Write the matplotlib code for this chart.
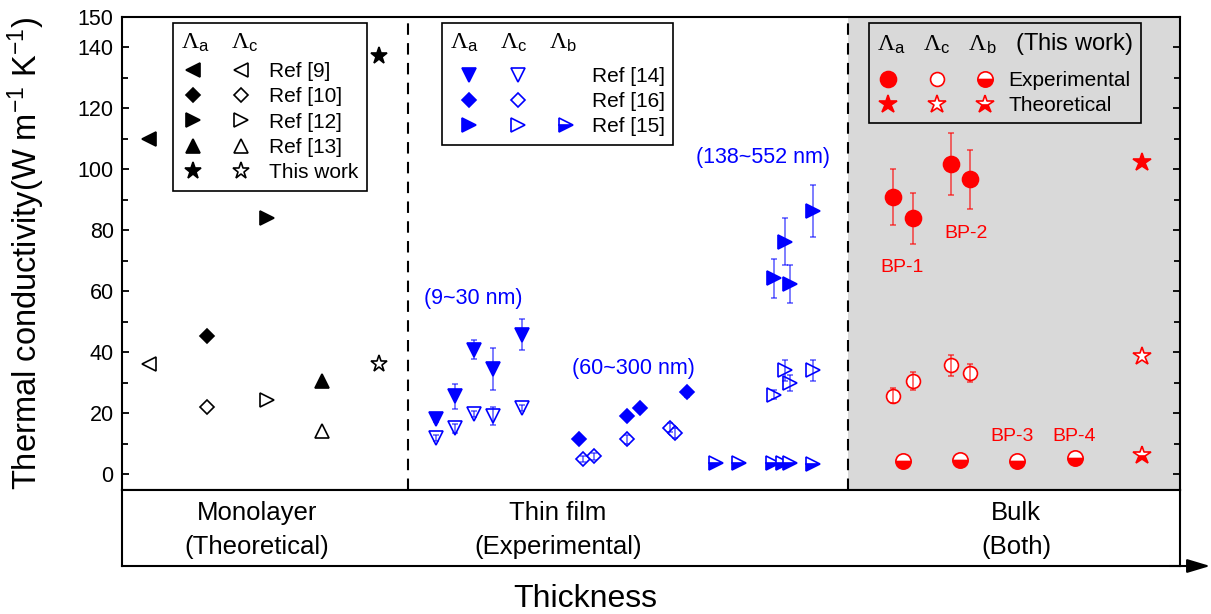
import matplotlib
matplotlib.use('Agg')
import matplotlib.pyplot as plt
from matplotlib.legend_handler import HandlerTuple
from matplotlib.lines import Line2D

plt.rcParams['font.family'] = ['Liberation Sans', 'DejaVu Sans']
plt.rcParams['mathtext.fontset'] = 'custom'
plt.rcParams['mathtext.rm'] = 'Liberation Sans'
plt.rcParams['mathtext.sf'] = 'Liberation Sans'
plt.rcParams['mathtext.cal'] = 'Liberation Serif'
plt.rcParams['mathtext.default'] = 'regular'

# ---- monolayer (theoretical), black ----
mono_x = [27, 85, 145, 200, 257]
mono_labels = ['Ref [9]', 'Ref [10]', 'Ref [12]', 'Ref [13]', 'This work']
mono_markers = ['<', 'D', '>', '^', '*']
mono_a = [110.0, 45.3, 83.9, 30.7, 137.2]
mono_c = [36.3, 22.0, 24.4, 14.3, 36.0]

# ---- thin film (experimental), blue ----
ref14_x = [314, 333, 352, 371, 400]
ref14_a = [18.1, 25.5, 40.9, 34.5, 45.8]
ref14_a_err = [1.0, 4.2, 3.0, 7.0, 5.0]
ref14_c = [11.8, 15.1, 19.8, 19.0, 21.7]
ref14_c_err = [1.0, 1.5, 1.0, 3.0, 1.0]

ref16_xa = [457, 505, 518, 565]
ref16_a = [11.5, 19.0, 21.6, 26.9]
ref16_a_err = [0.0, 0.0, 0.0, 1.5]
ref16_xc = [461, 472, 505, 548, 553]
ref16_c = [4.9, 5.8, 11.5, 15.2, 13.5]
ref16_c_err = [1.0, 1.0, 1.5, 1.5, 1.5]

ref15_x = [652, 663, 668, 691]
ref15_a = [64.2, 76.2, 62.3, 86.4]
ref15_a_err = [6.3, 7.7, 6.2, 8.5]
ref15_c = [26.1, 34.1, 29.9, 34.1]
ref15_c_err = [1.5, 3.5, 2.5, 3.4]
ref15_xb = [594, 617, 651, 661, 668, 691]
ref15_b = [3.6, 3.6, 3.6, 3.6, 3.6, 3.4]

# ---- bulk (this work), red ----
bp_x = [771, 791, 829, 848]
bp_a = [91.0, 83.9, 101.7, 96.7]
bp_a_err = [9.1, 8.4, 10.1, 9.6]
bp_c = [25.8, 30.5, 35.7, 33.2]
bp_c_err = [2.5, 3.0, 3.5, 3.1]
bp_xb = [781, 838, 895, 953]
bp_b = [4.4, 4.7, 4.2, 5.3]
theo_x = [1020]
theo_a = [102.3]
theo_c = [38.9]
theo_b = [6.3]

BLUE = '#0000ff'
RED = '#ff0000'

W, H = 1211, 614
fig = plt.figure(figsize=(W / 100, H / 100), dpi=100)
ax = fig.add_axes([122 / W, 1 - 490 / H, 1058 / W, 473 / H])
axb = fig.add_axes([122 / W, 1 - 566 / H, 1058 / W, 76 / H])


def pts(x, y, marker, color, ms, fill='full', yerr=None, ecolor=None):
    if yerr is not None:
        # bars sit over the markers so they show through the open symbols
        ax.errorbar(x, y, yerr=yerr, fmt='none', ecolor=ecolor, elinewidth=1.3,
                    capsize=2.5, capthick=1.3, zorder=5)
    kw = dict(linestyle='none', marker=marker, markersize=ms,
              markeredgecolor=color, markeredgewidth=1.2, zorder=4)
    if fill == 'full':
        kw.update(markerfacecolor=color)
    elif fill == 'none':
        kw.update(markerfacecolor='white')
    else:
        kw.update(fillstyle='bottom', markerfacecolor=color, markerfacecoloralt='white')
    return ax.plot(x, y, **kw)[0]


ax.axvspan(726, 1058, facecolor='#d9d9d9', zorder=0)
for xv in (286, 726):
    ax.axvline(xv, color='k', lw=1.5, ls=(0, (5.5, 4)), zorder=1)

# monolayer
mono_handles = []
for x, a, c, m in zip(mono_x, mono_a, mono_c, mono_markers):
    ms = 7 if m == 'D' else (12.5 if m == '*' else 10)
    ha = pts([x], [a], m, 'k', ms)
    hc = pts([x], [c], m, 'k', ms, fill='none')
    mono_handles.append((ha, hc))

# thin film
eb = (0, 0, 1, 0.55)
h14a = pts(ref14_x, ref14_a, 'v', BLUE, 10.5, yerr=ref14_a_err, ecolor=eb)
h14c = pts(ref14_x, ref14_c, 'v', BLUE, 10.5, fill='none', yerr=ref14_c_err, ecolor=eb)
h16a = pts(ref16_xa, ref16_a, 'D', BLUE, 7, yerr=ref16_a_err, ecolor=eb)
h16c = pts(ref16_xc, ref16_c, 'D', BLUE, 7, fill='none', yerr=ref16_c_err, ecolor=eb)
h15a = pts(ref15_x, ref15_a, '>', BLUE, 10.5, yerr=ref15_a_err, ecolor=eb)
h15c = pts(ref15_x, ref15_c, '>', BLUE, 10.5, fill='none', yerr=ref15_c_err, ecolor=eb)
h15b = pts(ref15_xb, ref15_b, '>', BLUE, 10.5, fill='bottom')
blank = Line2D([], [], linestyle='none')

# bulk
er = (1, 0, 0, 0.6)
hba = pts(bp_x, bp_a, 'o', RED, 11.5, yerr=bp_a_err, ecolor=er)
hbc = pts(bp_x, bp_c, 'o', RED, 10, fill='none', yerr=bp_c_err, ecolor=er)
hbb = pts(bp_xb, bp_b, 'o', RED, 11, fill='bottom')
hta = pts(theo_x, theo_a, '*', RED, 13.5)
htc = pts(theo_x, theo_c, '*', RED, 13.5, fill='none')
htb = pts(theo_x, theo_b, '*', RED, 13.5, fill='bottom')

# range / sample annotations
for x, y, s in [(351, 57.7, '(9~30 nm)'), (511, 34.6, '(60~300 nm)'),
                (641, 104.0, '(138~552 nm)')]:
    ax.text(x, y, s, color=BLUE, fontsize=15.5, ha='center', va='center')
for x, y, s in [(780, 67.8, 'BP-1'), (844, 79.0, 'BP-2'),
                (890, 12.2, 'BP-3'), (952, 12.2, 'BP-4')]:
    ax.text(x, y, s, color=RED, fontsize=14, ha='center', va='center')

LA = r'$\mathcal{\Lambda}_a$'
LC = r'$\mathcal{\Lambda}_c$'
LB = r'$\mathcal{\Lambda}_b$'
leg_kw = dict(loc='upper left', borderaxespad=0, alignment='left', fontsize=15,
              title_fontsize=17, borderpad=0.4, labelspacing=0.3, fancybox=False,
              edgecolor='k', framealpha=1)

leg1 = ax.legend(mono_handles, mono_labels, bbox_to_anchor=(0.048, 0.988),
                 title=LA + r'$\quad$' + LC,
                 handler_map={tuple: HandlerTuple(ndivide=None, pad=1.24)},
                 handlelength=3.43, handletextpad=0.8, **leg_kw)
leg1.get_frame().set_linewidth(1.2)
leg1._legend_box.sep = 6
ax.add_artist(leg1)

leg2 = ax.legend([(h14a, h14c, blank), (h16a, h16c, blank), (h15a, h15c, h15b)],
                 ['Ref [14]', 'Ref [16]', 'Ref [15]'], bbox_to_anchor=(0.302, 0.987),
                 title=LA + r'$\quad$' + LC + r'$\quad$' + LB,
                 handler_map={tuple: HandlerTuple(ndivide=None, pad=0.5)},
                 handlelength=6.5, handletextpad=0.3, **leg_kw)
leg2.get_frame().set_linewidth(1.2)
leg2._legend_box.sep = 9
ax.add_artist(leg2)

leg3 = ax.legend([(hba, hbc, hbb), (hta, htc, htb)], ['Experimental', 'Theoretical'],
                 bbox_to_anchor=(0.706, 0.988),
                 title=LA + r'$\;\;\;$' + LC + r'$\;\;\;$' + LB
                 + r'$\;\;\;$' + '(This work)',
                 handler_map={tuple: HandlerTuple(ndivide=None, pad=1.24)},
                 handlelength=5.7, handletextpad=0.6, **leg_kw)
leg3.get_frame().set_linewidth(1.2)
leg3.get_frame().set_facecolor('#d9d9d9')
leg3._legend_box.sep = 10

ax.set_xlim(0, 1058)
ax.set_ylim(-5.2, 150)
ax.set_xticks([])
ax.set_yticks([0, 20, 40, 60, 80, 100, 120, 140, 150])
ax.set_yticks(list(range(10, 140, 20)), minor=True)
ax.tick_params(axis='y', which='both', direction='in', left=True, right=True,
               width=1.3, labelsize=15.5, pad=6)
ax.tick_params(axis='y', which='major', length=5)
ax.tick_params(axis='y', which='minor', length=4)
ax.set_ylabel(r'Thermal conductivity(W m$^{-1}$ K$^{-1}$)', fontsize=23.5)
ax.yaxis.set_label_coords(-0.071, 0.5)

# category strip below the plot
axb.set_xlim(0, 1058)
axb.set_ylim(0, 1)
axb.set_xticks([])
axb.set_yticks([])
for sp in list(ax.spines.values()) + list(axb.spines.values()):
    sp.set_linewidth(1.5)
for x, top, bottom in [(135, 'Monolayer', '(Theoretical)'),
                       (436, 'Thin film', '(Experimental)'),
                       (894, 'Bulk', '(Both)')]:
    axb.text(x, 0.70, top, fontsize=18.5, ha='center', va='center')
    axb.text(x, 0.254, bottom, fontsize=18.5, ha='center', va='center')
axb.annotate('', xy=(1.0285, 0), xytext=(0.99, 0), xycoords='axes fraction',
             arrowprops=dict(arrowstyle='-|>,head_length=1.0,head_width=0.3',
                             color='k', lw=1.5, mutation_scale=14,
                             shrinkA=0, shrinkB=0),
             annotation_clip=False)

fig.text(585 / W, 1 - 607 / H, 'Thickness', fontsize=23, ha='center', va='baseline')

fig.savefig('out.png', dpi=100)
